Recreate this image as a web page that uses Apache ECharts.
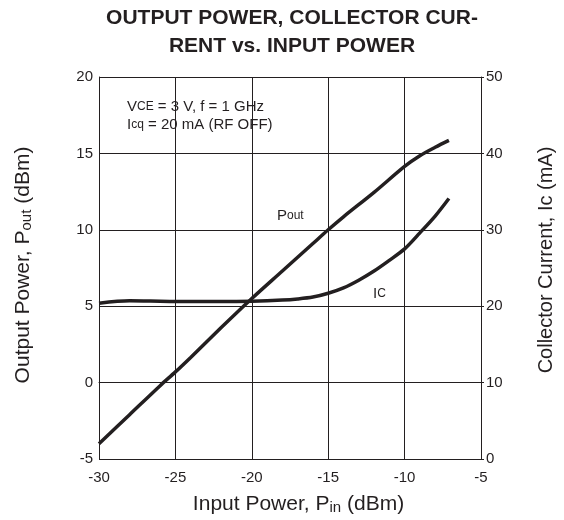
<!DOCTYPE html>
<html>
<head>
<meta charset="utf-8">
<script src="https://cdn.jsdelivr.net/npm/echarts@6/dist/echarts.min.js"></script>
<style>
  html, body { margin: 0; padding: 0; background: #fff; }
  #chart { width: 564px; height: 520px; }
</style>
</head>
<body>
<div id="chart"></div>
<script>
// input power (dBm) sample points
var poutX = [-30, -28, -26, -25, -24, -22, -20, -18, -16, -15, -14, -12, -10, -9, -8, -7.1];
var poutY = [-4.0, -2.1, -0.2, 0.7, 1.65, 3.6, 5.5, 7.3, 9.1, 10.0, 10.85, 12.45, 14.15, 14.85, 15.4, 15.85];

var icX = [-30, -28, -26, -24, -22, -20, -18, -17, -16, -15, -14, -13, -12, -11, -10, -9, -8, -7.1];
var icY = [20.4, 20.7, 20.65, 20.6, 20.6, 20.65, 20.8, 20.95, 21.2, 21.7, 22.4, 23.4, 24.6, 26.0, 27.5, 29.6, 31.8, 34.1];

var xTicks = [-30, -25, -20, -15, -10, -5];
var leftTicks = [-5, 0, 5, 10, 15, 20];
var rightTicks = [0, 10, 20, 30, 40, 50];

var FONT = 'Liberation Sans, Arial, sans-serif';
var INK = '#231f20';

function pairs(xs, ys) {
    return xs.map(function (x, i) { return [x, ys[i]]; });
}

var myChart = echarts.init(document.getElementById('chart'));

var option = {
    backgroundColor: '#fff',
    animation: false,
    grid: { left: 99, right: 82, top: 77, bottom: 59 },
    xAxis: {
        type: 'value',
        min: xTicks[0],
        max: xTicks[xTicks.length - 1],
        interval: 5,
        name: 'Input Power, P{sub|in} (dBm)',
        nameLocation: 'middle',
        nameGap: 35,
        nameTextStyle: {
            fontFamily: FONT, fontSize: 21, color: INK,
            padding: [0, 0, 0, 17],
            rich: { sub: { fontFamily: FONT, fontSize: 15, color: INK, padding: [6, 0, 0, 0] } }
        },
        axisLine: { lineStyle: { color: INK, width: 1 } },
        axisTick: { show: false },
        axisLabel: { fontFamily: FONT, fontSize: 15, color: INK, margin: 11 },
        splitLine: { show: true, lineStyle: { color: INK, width: 1 } }
    },
    yAxis: [{
        type: 'value',
        min: leftTicks[0],
        max: leftTicks[leftTicks.length - 1],
        interval: 5,
        name: 'Output Power, P{sub|out} (dBm)',
        nameLocation: 'middle',
        nameGap: 65,
        nameTextStyle: {
            fontFamily: FONT, fontSize: 21, color: INK,
            padding: [0, 0, 0, 6],
            rich: { sub: { fontFamily: FONT, fontSize: 15, color: INK, padding: [6, 0, 0, 0] } }
        },
        axisLine: { show: true, lineStyle: { color: INK, width: 1 } },
        axisTick: { show: false },
        axisLabel: { fontFamily: FONT, fontSize: 15, color: INK, margin: 6 },
        splitLine: { show: true, lineStyle: { color: INK, width: 1 } }
    }, {
        type: 'value',
        position: 'right',
        min: rightTicks[0],
        max: rightTicks[rightTicks.length - 1],
        interval: 10,
        name: 'Collector Current, Ic (mA)',
        nameLocation: 'middle',
        nameGap: 55,
        nameRotate: 90,
        nameTextStyle: { fontFamily: FONT, fontSize: 20, color: INK, padding: [0, 0, 0, 16] },
        axisLine: { show: true, lineStyle: { color: INK, width: 1 } },
        axisTick: { show: true, length: 3, lineStyle: { color: INK } },
        axisLabel: { fontFamily: FONT, fontSize: 15, color: INK, margin: 5 },
        splitLine: { show: false }
    }],
    series: [{
        name: 'Pout',
        type: 'line',
        yAxisIndex: 0,
        smooth: 0.3,
        showSymbol: false,
        lineStyle: { color: INK, width: 3.5 },
        data: pairs(poutX, poutY)
    }, {
        name: 'Ic',
        type: 'line',
        yAxisIndex: 1,
        smooth: 0.3,
        showSymbol: false,
        lineStyle: { color: INK, width: 3.5 },
        data: pairs(icX, icY)
    }],
    graphic: [{
        type: 'text',
        x: 292,
        y: 4,
        style: {
            text: 'OUTPUT POWER, COLLECTOR CUR-\nRENT vs. INPUT POWER',
            font: 'bold 21px ' + FONT,
            fill: INK,
            align: 'center',
            verticalAlign: 'top',
            lineHeight: 28
        }
    }, {
        type: 'text',
        left: 127,
        top: 98,
        style: {
            text: 'V{s|CE} = 3 V, f = 1 GHz\nI{s|cq} = 20 mA (RF OFF)',
            font: '15px ' + FONT,
            fill: INK,
            lineHeight: 18,
            rich: {
                s: { fontSize: 12, fontFamily: FONT, fill: INK }
            }
        }
    }, {
        type: 'text',
        left: 277,
        top: 208,
        style: {
            text: 'P{s|out}',
            font: '15px ' + FONT,
            fill: INK,
            rich: { s: { fontSize: 12, fontFamily: FONT, fill: INK } }
        }
    }, {
        type: 'text',
        left: 373,
        top: 286,
        style: {
            text: 'I{s|C}',
            font: '15px ' + FONT,
            fill: INK,
            rich: { s: { fontSize: 12, fontFamily: FONT, fill: INK } }
        }
    }]
};

myChart.setOption(option);
</script>
</body>
</html>
